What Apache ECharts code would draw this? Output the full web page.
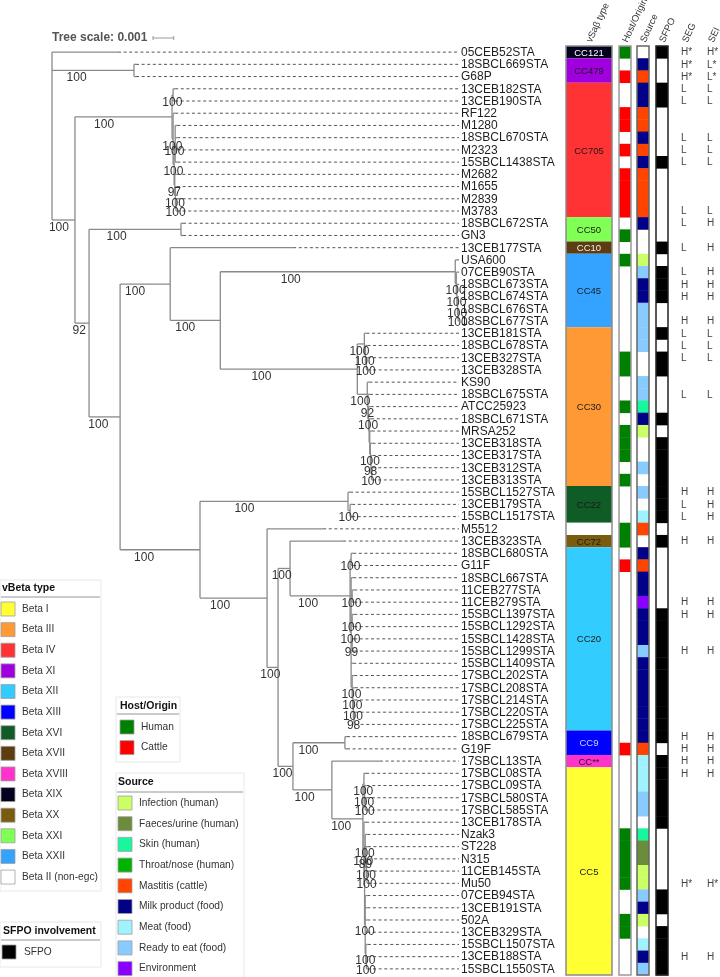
<!DOCTYPE html>
<html>
<head>
<meta charset="utf-8">
<title>vSaβ phylogeny</title>
<script src="https://cdn.jsdelivr.net/npm/echarts@6/dist/echarts.min.js"></script>
<style>
html,body{margin:0;padding:0;background:#fff;}
#chart{width:720px;height:977px;}
</style>
</head>
<body>
<div id="chart"></div>
<script>
// ======================= DATA =======================
// Branch lengths in units of 0.001 substitutions/site; internal labels = bootstrap support.
const LENGTH_UNIT = 0.001;
const treeScaleValue = 0.001;

const cladeCC705 = "((13CEB182STA:0.1,13CEB190STA:0.1)100:0.05,(RF122:0.1,((M1280:0.1,18SBCL670STA:0.1,M2323:0.1,15SBCL1438STA:0.1)100:0.05,(M2682:0.1,(M1655:0.08,(M2839:0.05,M3783:0.05)100:0.03)100:0.03)97:0.03)100:0.05)100:0.05)100";
const cladeCC45 = "(USA600:0.05,(07CEB90STA:0.05,(18SBCL673STA:0.05,(18SBCL674STA:0.05,(18SBCL676STA:0.03,18SBCL677STA:0.03)100:0.03)100:0.03)100:0.03)100:0.05)100";
const cladeCC30 = "((13CEB181STA:0.1,(18SBCL678STA:0.1,(13CEB327STA:0.05,13CEB328STA:0.05)100:0.05)100:0.05)100:0.34,(KS90:0.1,(18SBCL675STA:0.1,(ATCC25923:0.1,(18SBCL671STA:0.1,(MRSA252:0.1,(13CEB318STA:0.1,(13CEB317STA:0.08,(13CEB312STA:0.05,13CEB313STA:0.05)100:0.03)98:0.03)100:0.03):0.03):0.03)100:0.03)92:0.03)100:0.48)100";
const cladeCC22 = "(15SBCL1527STA:0.1,(13CEB179STA:0.1,15SBCL1517STA:0.1)100:0.1)100";
const cladeCC20 = "((18SBCL680STA:0.1,G11F:0.1)100:0.05,(18SBCL667STA:0.1,(11CEB277STA:0.1,11CEB279STA:0.1)100:0.05,(15SBCL1397STA:0.1,15SBCL1292STA:0.1)100:0.05,(15SBCL1428STA:0.1,15SBCL1299STA:0.1)99:0.05,15SBCL1409STA:0.1,(17SBCL202STA:0.1,(17SBCL208STA:0.1,(17SBCL214STA:0.05,(17SBCL220STA:0.05,17SBCL225STA:0.05)98:0.03)100:0.03)100:0.03)100:0.05)100:0.05)100";
const cladeCC5 = "((17SBCL08STA:0.1,(17SBCL09STA:0.1,(17SBCL580STA:0.05,17SBCL585STA:0.05)100:0.03)100:0.03)100:0.05,(13CEB178STA:0.1,((Nzak3:0.1,(ST228:0.1,(N315:0.1,(11CEB145STA:0.05,Mu50:0.05)100:0.03)100:0.03)89:0.03)100:0.03,(07CEB94STA:0.1,13CEB191STA:0.1,502A:0.1,13CEB329STA:0.1,(15SBCL1507STA:0.1,(13CEB188STA:0.05,15SBCL1550STA:0.05)100:0.03)100:0.03)100:0.03):0.03)100:0.05)100";

const treeNewick =
  "(05CEB52STA:3.19,(18SBCL669STA:0.1,G68P:0.1)100:3.96,(" +
    cladeCC705 + ":4.69,(" +
      "(18SBCL672STA:0.1,GN3:0.1)100:4.44,(" +
        "(13CEB177STA:5.94,(" + cladeCC45 + ":11.35," + cladeCC30 + ":6.62)100:2.42)100:2.42," +
        "(" + cladeCC22 + ":7.15,(M5512:2.71,((13CEB323STA:2.56," + cladeCC20 + ":2.9)100:0.58,((18SBCL679STA:0.1,G19F:0.1)100:2.51,(17SBCL13STA:2.32," + cladeCC5 + ":1.5)100:1.88)100:0.72)100:0.53)100:3.24)100:3.86" +
      ")100:1.5" +
    ")92:0.68" +
  ")100:1.11);";

// vSaβ type blocks (leaf index ranges, top to bottom)
const ccLabels = ['CC121','CC479','CC705','CC50','CC10','CC45','CC30','CC22','','CC72','CC20','CC9','CC**','CC5'];
const ccFirst  = [0, 1, 3, 14, 16, 17, 23, 36, 39, 40, 41, 56, 58, 59];
const ccLast   = [0, 2, 13, 15, 16, 22, 35, 38, 39, 40, 55, 57, 58, 75];
const ccBeta   = ['Beta XIX','Beta XI','Beta IV','Beta XXI','Beta XVII','Beta XXII','Beta III','Beta XVI','Beta II (non-egc)','Beta XX','Beta XII','Beta XIII','Beta XVIII','Beta I'];

// Host/Origin per leaf
const hostOrigin = [
  'Human','','Cattle','','','Cattle','Cattle','','Cattle','',
  'Cattle','Cattle','Cattle','Cattle','','Human','','Human','','',
  '','','','','','Human','Human','','','Human',
  '','Human','Human','Human','','Human','','','','Human',
  'Human','','Cattle','','','','','','','',
  '','','','','','','','Cattle','','',
  '','','','','Human','Human','Human','Human','Human','',
  '','Human','Human','','',''
];
// Source per leaf
const sourceType = [
  '','Milk product (food)','Mastitis (cattle)','Milk product (food)','Milk product (food)','Mastitis (cattle)','Mastitis (cattle)','Milk product (food)','Mastitis (cattle)','Milk product (food)',
  'Mastitis (cattle)','Mastitis (cattle)','Mastitis (cattle)','Mastitis (cattle)','Milk product (food)','','','Infection (human)','Ready to eat (food)','Milk product (food)',
  'Milk product (food)','Ready to eat (food)','Ready to eat (food)','Ready to eat (food)','Ready to eat (food)','','','Ready to eat (food)','Ready to eat (food)','Skin (human)',
  'Milk product (food)','Infection (human)','','','Ready to eat (food)','','Ready to eat (food)','','Meat (food)','Mastitis (cattle)',
  '','Milk product (food)','Mastitis (cattle)','Milk product (food)','Milk product (food)','Environment','Milk product (food)','Milk product (food)','Milk product (food)','Ready to eat (food)',
  'Milk product (food)','Milk product (food)','Milk product (food)','Milk product (food)','Milk product (food)','Milk product (food)','Milk product (food)','Mastitis (cattle)','Meat (food)','Meat (food)',
  'Meat (food)','Ready to eat (food)','Ready to eat (food)','','Skin (human)','Faeces/urine (human)','Faeces/urine (human)','Infection (human)','Infection (human)','Ready to eat (food)',
  'Milk product (food)','Infection (human)','','Meat (food)','Milk product (food)','Ready to eat (food)'
];
// SFPO involvement per leaf (1 = SFPO)
const sfpo = [
  1,0,0,1,1,0,0,0,0,1,
  0,0,0,0,0,0,1,0,1,1,
  1,0,0,1,0,1,1,0,0,0,
  1,0,1,1,1,1,1,1,1,0,
  1,0,0,0,0,0,1,1,1,1,
  1,1,1,1,1,1,1,0,1,1,
  1,1,1,1,0,0,0,0,0,1,
  1,0,1,1,1,1
];
// SEG / SEI
const segLevel = [
  'H*','H*','H*','L','L','','','L','L','L',
  '','','','L','L','','L','','L','H',
  'H','','H','L','L','L','','','L','',
  '','','','','','','H','L','L','',
  'H','','','','','H','H','','','H',
  '','','','','','','H','H','H','H',
  '','','','','','','','','H*','',
  '','','','','H',''
];
const seiLevel = [
  'H*','L*','L*','L','L','','','L','L','L',
  '','','','L','H','','H','','H','H',
  'H','','H','L','L','L','','','L','',
  '','','','','','','H','H','H','',
  'H','','','','','H','H','','','H',
  '','','','','','','H','H','H','H',
  '','','','','','','','','H*','',
  '','','','','H',''
];
const columnHeaders = ['vSaβ type','Host/Origin','Source','SFPO'];
const enteroHeaders = ['SEG','SEI'];

// Legends
const vbetaLegend = ['Beta I','Beta III','Beta IV','Beta XI','Beta XII','Beta XIII','Beta XVI','Beta XVII','Beta XVIII','Beta XIX','Beta XX','Beta XXI','Beta XXII','Beta II (non-egc)'];
const hostLegend = ['Human','Cattle'];
const sourceLegend = ['Infection (human)','Faeces/urine (human)','Skin (human)','Throat/nose (human)','Mastitis (cattle)','Milk product (food)','Meat (food)','Ready to eat (food)','Environment'];
const sfpoLegend = ['SFPO'];

// ======================= STYLES =======================
const FONT = 'Liberation Sans, Arial, sans-serif';
const vbetaColors = {
  'Beta I':'#ffff33','Beta III':'#ff9933','Beta IV':'#ff3333','Beta XI':'#a000dd',
  'Beta XII':'#33ccff','Beta XIII':'#0000ff','Beta XVI':'#0f5c26','Beta XVII':'#5c3c10',
  'Beta XVIII':'#ff33cc','Beta XIX':'#02021e','Beta XX':'#7a5c0f','Beta XXI':'#80ff55',
  'Beta XXII':'#33a3ff','Beta II (non-egc)':'#ffffff'
};
const ccTextColors = {'Beta XIX':'#ffffff','Beta XVII':'#f0f0f0','Beta XIII':'#c8d4ff'};
const hostColors = {'Human':'#008000','Cattle':'#ff0000'};
const sourceColors = {
  'Infection (human)':'#ccff66','Faeces/urine (human)':'#6b8c3a','Skin (human)':'#19f79e',
  'Throat/nose (human)':'#00b300','Mastitis (cattle)':'#ff4500','Milk product (food)':'#000088',
  'Meat (food)':'#a0f2ff','Ready to eat (food)':'#88ccff','Environment':'#8800ff'
};
const sfpoColors = {'SFPO':'#000000'};

// ======================= TREE PARSING / LAYOUT =======================
function parseNewick(str){
  const s = str.replace(/\s+/g,'');
  let i = 0;
  function node(){
    const n = {children:[], name:'', len:0};
    if (s[i] === '('){
      i++;
      n.children.push(node());
      while (s[i] === ','){ i++; n.children.push(node()); }
      i++; // ')'
    }
    let name = '';
    while (i < s.length && ',():;'.indexOf(s[i]) < 0) name += s[i++];
    n.name = name;
    if (s[i] === ':'){
      i++;
      let num = '';
      while (i < s.length && ',();'.indexOf(s[i]) < 0) num += s[i++];
      n.len = parseFloat(num) * LENGTH_UNIT;
    }
    return n;
  }
  return node();
}
const root = parseNewick(treeNewick);
const leaves = [];
(function layout(n, x){
  n.x = x;
  if (!n.children.length){ n.y = leaves.length; leaves.push(n); }
  else {
    n.children.forEach(c => layout(c, x + c.len));
    n.y = (n.children[0].y + n.children[n.children.length-1].y) / 2;
  }
})(root, 0);
const N = leaves.length;

// Tree pixel geometry (grid) — scale bar 0.001 ≈ 20.7px
const TREE_LEFT = 52, TREE_WIDTH = 407;
const X_MAX = TREE_WIDTH / 20.7 * 0.001;

const branchSegs = [], tipSegs = [], supports = [];
(function walk(n, p){
  if (p) branchSegs.push([p.x, n.y, n.x, n.y]);
  if (n.children.length){
    branchSegs.push([n.x, n.children[0].y, n.x, n.children[n.children.length-1].y]);
    if (p && n.name) supports.push([p.x + 0.3*(n.x - p.x), n.y, n.name]);
    n.children.forEach(c => walk(c, n));
  } else {
    tipSegs.push([n.x, n.y, X_MAX, n.y]);
  }
})(root, null);

// ======================= CHART =======================
const GRID_TOP = 46, GRID_H = 929;
const gridDefs = [
  {left: TREE_LEFT, width: TREE_WIDTH},  // 0 tree
  {left: 566, width: 46},                // 1 vSaβ
  {left: 619, width: 12},                // 2 host
  {left: 637, width: 12},                // 3 source
  {left: 656, width: 12},                // 4 SFPO
  {left: 672, width: 52}                 // 5 SEG/SEI
];
const grids = gridDefs.map(g => ({left: g.left, width: g.width, top: GRID_TOP, height: GRID_H, containLabel: false, outerBoundsMode: 'none'}));
const yAxes = gridDefs.map((g, k) => ({type:'value', gridIndex:k, min:-0.5, max:N-0.5, inverse:true, show:false}));
function catAxis(k, data){
  return {type:'category', gridIndex:k, data:data, position:'top',
    axisLine:{show:false}, axisTick:{show:false}, splitLine:{show:false},
    axisLabel:{rotate:65, margin:4, interval:0, fontSize:9.5, fontFamily:FONT, color:'#333'}};
}
const xAxes = [
  {type:'value', gridIndex:0, min:0, max:X_MAX, show:false},
  catAxis(1, [columnHeaders[0]]),
  catAxis(2, [columnHeaders[1]]),
  catAxis(3, [columnHeaders[2]]),
  catAxis(4, [columnHeaders[3]]),
  catAxis(5, enteroHeaders)
];

function lineSeries(data, style){
  return {type:'custom', xAxisIndex:0, yAxisIndex:0, silent:true, clip:false, data:data,
    renderItem(params, api){
      const a = api.coord([api.value(0), api.value(1)]);
      const b = api.coord([api.value(2), api.value(3)]);
      return {type:'line', shape:{x1:a[0], y1:a[1], x2:b[0], y2:b[1]}, style:style};
    }};
}

function cellSeries(k, values, colors){
  const data = [];
  values.forEach((v, i) => { if (v !== '' && v !== 0) data.push([0, i, typeof v === 'number' ? 'SFPO' : v]); });
  return {type:'custom', xAxisIndex:k, yAxisIndex:k, silent:true, data:data.map(d => [d[0], d[1]]),
    renderItem(params, api){
      const c = api.coord([0, api.value(1)]);
      const sz = api.size([1, 1]);
      return {type:'rect', shape:{x:c[0]-sz[0]/2, y:c[1]-sz[1]/2, width:sz[0], height:sz[1]+0.4},
        style:{fill: colors[data[params.dataIndex][2]]}};
    }};
}
function frameSeries(k, color, lw){
  return {type:'custom', xAxisIndex:k, yAxisIndex:k, silent:true, z:5, data:[[0, -0.5, N-0.5]],
    renderItem(params, api){
      const a = api.coord([0, api.value(1)]);
      const b = api.coord([0, api.value(2)]);
      const sz = api.size([1, 1]);
      return {type:'rect', shape:{x:a[0]-sz[0]/2, y:a[1], width:sz[0], height:b[1]-a[1]},
        style:{fill:'none', stroke:color, lineWidth:lw}};
    }};
}

const series = [
  lineSeries(tipSegs, {stroke:'#555', lineWidth:1, lineDash:[3,2.6]}),
  lineSeries(branchSegs, {stroke:'#8a8a8a', lineWidth:1.3}),
  // bootstrap supports
  {type:'custom', xAxisIndex:0, yAxisIndex:0, silent:true, clip:false, z:3,
    data: supports.map(s => [s[0], s[1]]),
    renderItem(params, api){
      const p = api.coord([api.value(0), api.value(1)]);
      return {type:'text', x:p[0], y:p[1]+7.5,
        style:{text:supports[params.dataIndex][2], fontSize:12, fontFamily:FONT, fill:'#333', align:'center', verticalAlign:'middle'}};
    }},
  // leaf names
  {type:'custom', xAxisIndex:0, yAxisIndex:0, silent:true, clip:false, z:4,
    data: leaves.map(l => [X_MAX, l.y]),
    renderItem(params, api){
      const p = api.coord([api.value(0), api.value(1)]);
      return {type:'text', x:p[0]+2, y:p[1]+0.5,
        style:{text:leaves[params.dataIndex].name, fontSize:12, fontFamily:FONT, fill:'#1e1e1e', align:'left', verticalAlign:'middle'}};
    }},
  // vSaβ type blocks
  {type:'custom', xAxisIndex:1, yAxisIndex:1, silent:true,
    data: ccLabels.map((c, i) => [0, ccFirst[i], ccLast[i]]),
    renderItem(params, api){
      const i = params.dataIndex;
      const a = api.coord([0, api.value(1) - 0.5]);
      const b = api.coord([0, api.value(2) + 0.5]);
      const w = api.size([1, 1])[0];
      const beta = ccBeta[i];
      return {type:'group', children:[
        {type:'rect', shape:{x:a[0]-w/2, y:a[1], width:w, height:b[1]-a[1]}, style:{fill:vbetaColors[beta]}},
        {type:'text', x:a[0], y:(a[1]+b[1])/2 + 1,
          style:{text:ccLabels[i], fontSize:9.5, fontFamily:FONT, fill:ccTextColors[beta] || '#1a1a1a', align:'center', verticalAlign:'middle'}}
      ]};
    }},
  cellSeries(2, hostOrigin, hostColors),
  cellSeries(3, sourceType, sourceColors),
  cellSeries(4, sfpo, sfpoColors),
  frameSeries(1, '#8c8c8c', 1.5),
  frameSeries(2, '#9a9a9a', 1.5),
  frameSeries(3, '#666', 1.5),
  frameSeries(4, '#222', 1.5),
  // SEG / SEI text
  {type:'custom', xAxisIndex:5, yAxisIndex:5, silent:true,
    data: (function(){ const d=[]; segLevel.forEach((v,i)=>{ if(v) d.push([0,i,v]); }); seiLevel.forEach((v,i)=>{ if(v) d.push([1,i,v]); }); return d; })().map(d => [d[0], d[1]]),
    renderItem(params, api){
      const all=[]; segLevel.forEach((v,i)=>{ if(v) all.push(v); }); seiLevel.forEach((v,i)=>{ if(v) all.push(v); });
      const p = api.coord([api.value(0), api.value(1)]);
      return {type:'text', x:p[0]-4, y:p[1]+0.5,
        style:{text:all[params.dataIndex], fontSize:10, fontFamily:FONT, fill:'#444', align:'left', verticalAlign:'middle'}};
    }}
];

const chart = echarts.init(document.getElementById('chart'), null, {renderer:'canvas'});
chart.setOption({
  animation:false,
  backgroundColor:'#fff',
  textStyle:{fontFamily:FONT},
  grid: grids, xAxis: xAxes, yAxis: yAxes, series: series
});

// ---------- legends and tree scale (graphic overlay) ----------
function legendBlock(cfg){
  const els = [];
  els.push({type:'rect', shape:{x:cfg.x, y:cfg.y, width:cfg.w, height:cfg.h}, style:{fill:'#fff', stroke:'#e8e8e8', lineWidth:1}, z:10});
  els.push({type:'text', x:cfg.titleX, y:cfg.titleY, style:{text:cfg.title, fontSize:10.5, fontWeight:'bold', fontFamily:FONT, fill:'#111', verticalAlign:'middle'}, z:11});
  els.push({type:'line', shape:{x1:cfg.x+1, y1:cfg.sepY, x2:cfg.x+cfg.w-1, y2:cfg.sepY}, style:{stroke:'#b8b8b8', lineWidth:1.5}, z:11});
  cfg.items.forEach((name, i) => {
    const cy = cfg.itemY + i * cfg.step;
    els.push({type:'rect', shape:{x:cfg.swX, y:cy-7, width:14, height:14}, style:{fill:cfg.colors[name], stroke:'#a0a0a0', lineWidth:0.8}, z:11});
    els.push({type:'text', x:cfg.txX, y:cy, style:{text:name, fontSize:10.2, fontFamily:FONT, fill:'#333', verticalAlign:'middle'}, z:11});
  });
  return els;
}
const px0 = chart.convertToPixel({xAxisIndex:0}, 0);
const px1 = chart.convertToPixel({xAxisIndex:0}, treeScaleValue);
const barLen = px1 - px0;
const barX = 153, barY = 38;
const graphics = [].concat(
  [{type:'text', x:TREE_LEFT, y:barY, style:{text:'Tree scale: ' + treeScaleValue, fontSize:12, fontWeight:'bold', fontFamily:FONT, fill:'#555', verticalAlign:'middle'}},
   {type:'line', shape:{x1:barX, y1:barY, x2:barX+barLen, y2:barY}, style:{stroke:'#999', lineWidth:1}},
   {type:'line', shape:{x1:barX, y1:barY-2, x2:barX, y2:barY+2}, style:{stroke:'#999', lineWidth:1}},
   {type:'line', shape:{x1:barX+barLen, y1:barY-2, x2:barX+barLen, y2:barY+2}, style:{stroke:'#999', lineWidth:1}}],
  legendBlock({x:0, y:580, w:101, h:311, title:'vBeta type', titleX:2, titleY:588, sepY:597, items:vbetaLegend, colors:vbetaColors, itemY:609, step:20.62, swX:1, txX:22}),
  legendBlock({x:116, y:697, w:64, h:65, title:'Host/Origin', titleX:120, titleY:706, sepY:714, items:hostLegend, colors:hostColors, itemY:727, step:20.6, swX:120, txX:141}),
  legendBlock({x:116, y:773, w:128, h:205, title:'Source', titleX:118, titleY:782, sepY:792, items:sourceLegend, colors:sourceColors, itemY:803, step:20.7, swX:118, txX:139}),
  legendBlock({x:0, y:922, w:101, h:45, title:'SFPO involvement', titleX:3, titleY:931, sepY:940, items:sfpoLegend, colors:sfpoColors, itemY:952, step:20, swX:2, txX:24})
);
chart.setOption({graphic: graphics});
</script>
</body>
</html>
